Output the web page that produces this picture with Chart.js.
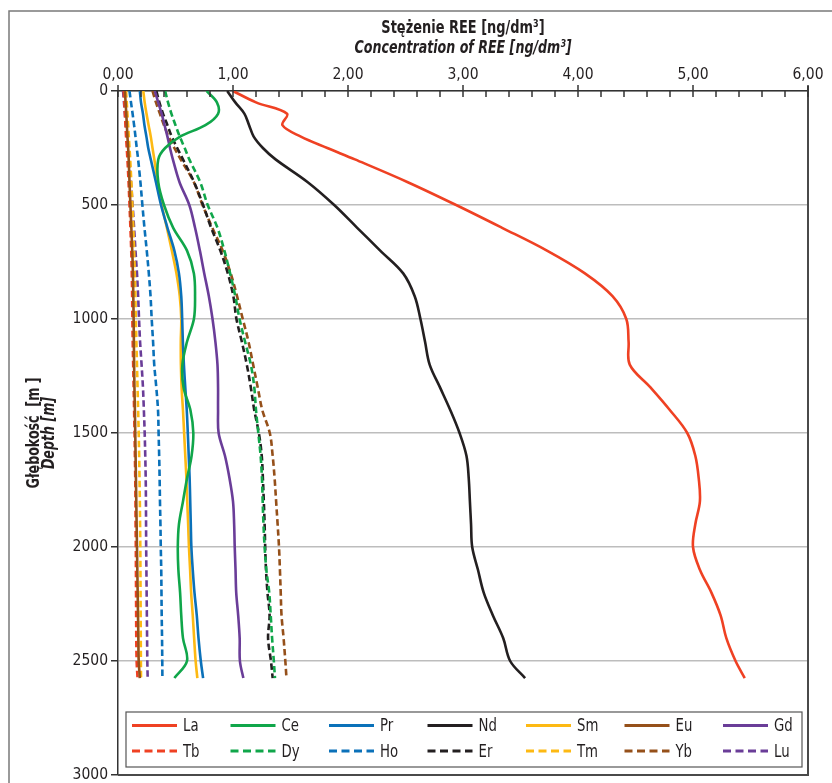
<!DOCTYPE html>
<html><head><meta charset="utf-8">
<script src="https://cdn.jsdelivr.net/npm/chart.js@4/dist/chart.umd.min.js"></script>
<style>html,body{margin:0;padding:0;background:#fff;}canvas{display:block;}</style>
</head><body>
<canvas id="c" width="832" height="783"></canvas>
<script>
// ---- data (depth in m, concentration in ng/dm3) ----
const DEPTH = [0,50,100,150,200,250,300,400,500,600,700,800,900,1000,1100,1200,1300,1400,1500,1600,1700,1800,1900,2000,2100,2200,2300,2400,2500,2575];
const La = [1.00,1.20,1.47,1.43,1.59,1.82,2.06,2.52,2.94,3.34,3.73,4.06,4.30,4.42,4.44,4.45,4.63,4.80,4.95,5.02,5.05,5.06,5.02,5.00,5.06,5.16,5.24,5.29,5.37,5.45];
const Ce = [0.77,0.86,0.87,0.76,0.54,0.41,0.35,0.35,0.40,0.48,0.60,0.66,0.67,0.66,0.60,0.56,0.57,0.63,0.655,0.64,0.60,0.565,0.53,0.52,0.525,0.54,0.55,0.565,0.60,0.49];
const Pr = [0.19,0.20,0.217,0.23,0.247,0.263,0.285,0.33,0.374,0.43,0.49,0.53,0.55,0.558,0.564,0.573,0.585,0.598,0.607,0.615,0.623,0.628,0.633,0.638,0.65,0.665,0.685,0.70,0.72,0.74];
const Nd = [0.95,1.02,1.10,1.14,1.18,1.26,1.37,1.65,1.88,2.08,2.28,2.48,2.58,2.63,2.67,2.71,2.80,2.89,2.97,3.03,3.05,3.06,3.07,3.08,3.13,3.18,3.26,3.35,3.41,3.54];
const Sm = [0.22,0.232,0.248,0.266,0.285,0.30,0.316,0.345,0.38,0.425,0.468,0.508,0.537,0.55,0.546,0.547,0.553,0.565,0.575,0.585,0.595,0.602,0.61,0.617,0.627,0.636,0.65,0.662,0.675,0.69];
const Eu = [0.06,0.066,0.072,0.077,0.082,0.088,0.093,0.10,0.108,0.116,0.124,0.13,0.133,0.136,0.138,0.14,0.143,0.147,0.15,0.153,0.156,0.159,0.162,0.165,0.168,0.171,0.174,0.177,0.18,0.19];
const Gd = [0.32,0.35,0.38,0.405,0.43,0.452,0.477,0.535,0.62,0.67,0.712,0.75,0.79,0.822,0.847,0.865,0.87,0.87,0.875,0.93,0.97,1.00,1.01,1.015,1.022,1.028,1.045,1.058,1.06,1.09];
const Tb = [0.05,0.055,0.06,0.065,0.07,0.076,0.082,0.092,0.10,0.108,0.115,0.12,0.123,0.125,0.128,0.132,0.136,0.14,0.144,0.147,0.15,0.152,0.153,0.155,0.156,0.157,0.158,0.159,0.162,0.17];
const Dy = [0.41,0.435,0.465,0.50,0.537,0.58,0.62,0.715,0.78,0.865,0.925,0.975,1.02,1.057,1.105,1.155,1.185,1.20,1.22,1.24,1.252,1.258,1.265,1.275,1.29,1.315,1.328,1.34,1.355,1.365];
const Ho = [0.10,0.113,0.127,0.14,0.152,0.163,0.175,0.195,0.212,0.23,0.25,0.268,0.283,0.293,0.305,0.315,0.333,0.348,0.353,0.358,0.362,0.365,0.369,0.372,0.376,0.378,0.38,0.383,0.385,0.386];
const Er = [0.334,0.36,0.392,0.43,0.467,0.515,0.565,0.662,0.74,0.81,0.89,0.955,1.003,1.03,1.077,1.12,1.155,1.185,1.225,1.25,1.26,1.268,1.275,1.28,1.287,1.30,1.318,1.305,1.33,1.345];
const Tm = [0.07,0.076,0.082,0.088,0.094,0.10,0.106,0.116,0.125,0.133,0.14,0.146,0.151,0.155,0.16,0.165,0.17,0.175,0.18,0.184,0.187,0.19,0.192,0.194,0.195,0.196,0.197,0.198,0.199,0.20];
const Yb = [0.30,0.33,0.365,0.40,0.44,0.49,0.545,0.66,0.735,0.82,0.91,0.98,1.035,1.085,1.135,1.175,1.215,1.255,1.32,1.345,1.362,1.375,1.388,1.40,1.408,1.415,1.422,1.44,1.455,1.465];
const Lu = [0.044,0.052,0.06,0.068,0.077,0.087,0.096,0.113,0.127,0.14,0.152,0.165,0.175,0.183,0.192,0.205,0.217,0.225,0.232,0.237,0.241,0.243,0.244,0.245,0.247,0.249,0.251,0.253,0.255,0.258];

const ELEMENTS = ['La','Ce','Pr','Nd','Sm','Eu','Gd','Tb','Dy','Ho','Er','Tm','Yb','Lu'];
const VALUES = {La,Ce,Pr,Nd,Sm,Eu,Gd,Tb,Dy,Ho,Er,Tm,Yb,Lu};
const X_TICK_LABELS = ['0,00','1,00','2,00','3,00','4,00','5,00','6,00'];
const Y_TICK_LABELS = ['0','500','1000','1500','2000','2500','3000'];

// ---- styles ----
const PALETTE = ['#ef4123','#10a64a','#0b71b9','#231f20','#fdb913','#95501a','#6a3d98'];
const FONT = "'Liberation Sans Narrow','Arial Narrow','DejaVu Sans Condensed','Liberation Sans',sans-serif";
const TXT = '#231f20';

const datasets = ELEMENTS.map((el, i) => ({
  label: el,
  data: DEPTH.map((d, k) => ({x: VALUES[el][k], y: d})),
  borderColor: PALETTE[i % 7],
  backgroundColor: PALETTE[i % 7],
  borderWidth: 2.6,
  borderDash: i >= 7 ? [6.5, 3.5] : [],
  showLine: true,
  pointRadius: 0,
  tension: 0.35,
  fill: false
}));

function narrowText(ctx, text, x, y, sx) {
  ctx.save();
  ctx.translate(x, y);
  ctx.scale(sx, 1);
  ctx.fillText(text, 0, 0);
  ctx.restore();
}

const decor = {
  id: 'decor',
  beforeDraw(chart) {
    const ctx = chart.ctx;
    ctx.save();
    ctx.fillStyle = '#fff';
    ctx.fillRect(0, 0, chart.width, chart.height);
    ctx.strokeStyle = '#7a7a7a';
    ctx.lineWidth = 1.5;
    ctx.beginPath();
    ctx.moveTo(9, chart.height); ctx.lineTo(9, 11); ctx.lineTo(chart.width, 11);
    ctx.stroke();
    ctx.restore();
  },
  afterDraw(chart) {
    const ctx = chart.ctx, ca = chart.chartArea, xs = chart.scales.x;
    ctx.save();
    // right and bottom frame of plot
    ctx.strokeStyle = '#4a4a4a';
    ctx.lineWidth = 2;
    ctx.beginPath();
    ctx.moveTo(ca.right, ca.top - 5); ctx.lineTo(ca.right, ca.bottom); ctx.lineTo(ca.left, ca.bottom);
    ctx.stroke();
    // x tick marks (minor inward, major both ways)
    ctx.strokeStyle = '#333';
    ctx.lineWidth = 1.5;
    xs.ticks.forEach(t => {
      const px = xs.getPixelForValue(t.value);
      const major = Math.abs(t.value - Math.round(t.value)) < 1e-6;
      ctx.beginPath();
      ctx.moveTo(px, major ? ca.top - 6 : ca.top);
      ctx.lineTo(px, ca.top + 6);
      ctx.stroke();
    });
    // axis titles
    ctx.fillStyle = TXT;
    ctx.textAlign = 'center';
    ctx.textBaseline = 'alphabetic';
    const cx = (ca.left + ca.right) / 2;
    ctx.font = 'bold 18px ' + FONT;
    narrowText(ctx, 'Stężenie REE [ng/dm³]', cx, 33, 0.8);
    ctx.font = 'italic bold 18px ' + FONT;
    narrowText(ctx, 'Concentration of REE [ng/dm³]', cx, 53, 0.78);
    const cy = (ca.top + ca.bottom) / 2;
    ctx.save();
    ctx.translate(39, cy);
    ctx.rotate(-Math.PI / 2);
    ctx.font = 'bold 18px ' + FONT;
    narrowText(ctx, 'Głębokość  [m ]', 0, 0, 0.78);
    ctx.font = 'italic bold 18px ' + FONT;
    narrowText(ctx, 'Depth [m]', 0, 15, 0.78);
    ctx.restore();
    // legend
    const bx = ca.left + 8, bw = ca.right - 6 - bx, by = ca.bottom - 63, bh = 55;
    ctx.fillStyle = '#fff';
    ctx.fillRect(bx, by, bw, bh);
    ctx.strokeStyle = '#555';
    ctx.lineWidth = 1.2;
    ctx.strokeRect(bx, by, bw, bh);
    ctx.font = '18px ' + FONT;
    ctx.textAlign = 'left';
    ctx.textBaseline = 'middle';
    chart.data.datasets.forEach((ds, i) => {
      const col = i % 7, row = Math.floor(i / 7);
      const lx = bx + 6 + col * 98.5;
      const ly = by + 13.5 + row * 25.5;
      ctx.strokeStyle = ds.borderColor;
      ctx.lineWidth = 3;
      ctx.setLineDash(row ? [8, 4.5] : []);
      ctx.beginPath(); ctx.moveTo(lx, ly); ctx.lineTo(lx + 45, ly); ctx.stroke();
      ctx.setLineDash([]);
      ctx.fillStyle = TXT;
      narrowText(ctx, ds.label, lx + 51, ly + 1, 0.82);
    });
    ctx.restore();
  }
};

new Chart(document.getElementById('c'), {
  type: 'scatter',
  data: {datasets},
  options: {
    responsive: false,
    animation: false,
    devicePixelRatio: 1,
    layout: {padding: {left: 0, top: 0, right: 24, bottom: 0}},
    plugins: {legend: {display: false}, tooltip: {enabled: false}},
    scales: {
      x: {
        type: 'linear', position: 'top', min: 0, max: 6,
        afterFit(s) { s.height = 91; },
        ticks: {
          stepSize: 0.2, autoSkip: false, maxRotation: 0, padding: 7,
          color: TXT, font: {family: FONT, size: 15.5},
          callback: v => Math.abs(v - Math.round(v)) < 1e-6 ? X_TICK_LABELS[Math.round(v)] : ''
        },
        grid: {display: true, drawOnChartArea: false, drawTicks: false},
        border: {display: true, color: '#333', width: 1.5}
      },
      y: {
        type: 'linear', reverse: true, min: 0, max: 3000,
        afterFit(s) { s.width = 118; s.paddingTop = 0; s.paddingBottom = 8; },
        ticks: {
          stepSize: 500, padding: 3, color: TXT, font: {family: FONT, size: 15.5},
          callback: (v) => Y_TICK_LABELS[Math.round(v / 500)]
        },
        grid: {color: '#bdbdbd', lineWidth: 1.5, tickColor: '#333', tickLength: 7, drawTicks: true},
        border: {display: true, color: '#333', width: 1.5}
      }
    }
  },
  plugins: [decor]
});
</script>
</body></html>
